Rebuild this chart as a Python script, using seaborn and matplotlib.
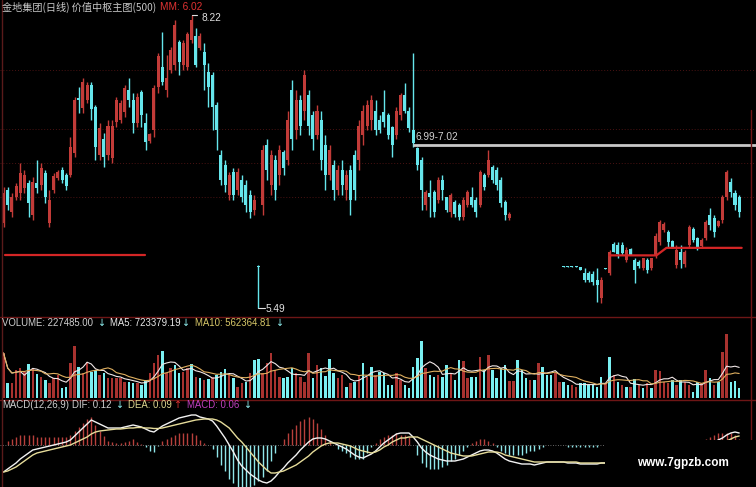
import matplotlib
matplotlib.use('Agg')
import matplotlib.pyplot as plt
from matplotlib.lines import Line2D
from matplotlib.patches import Rectangle
import seaborn as sns
import numpy as np
import pandas as pd

# daily candles (price), None = not drawn by the indicator
opens = [6.28, 6.59, 6.38, 6.52, 6.56, 6.61, 6.65, 6.36, 6.65, 6.64,
         6.75, 6.28, 6.59, 6.70, 6.78, 6.73, 6.73, 6.93, 7.45, 7.35,
         7.43, 7.57, 7.36, 6.92, 7.06, 6.92, 6.89, 7.22, 7.24, 7.32,
         7.52, 7.43, 7.21, 7.50, 7.21, 7.05, 7.15, 7.55, 7.74, 7.52,
         7.71, 7.75, 7.97, 7.75, 7.74, 7.99, 8.02, 7.91, 7.88, 7.69,
         7.66, 7.38, 6.92, 6.82, 6.54, 6.76, 6.59, 6.68, 6.64, 6.54,
         6.40, 5.88, 6.45, 7.01, 6.64, 6.87, 6.73, 6.94, 6.87, 7.52,
         7.15, 7.43, 7.33, 7.47, 7.29, 7.10, 7.24, 7.01, 6.73, 6.82,
         6.59, 6.78, 6.59, 6.78, 6.92, 6.87, 7.10, 7.19, 7.24, 7.33,
         7.24, 7.32, 7.29, 7.18, 7.10, 7.29, 7.47, 7.33, 7.15, 6.98,
         6.87, 6.45, 6.56, 6.57, 6.50, 6.68, 6.52, 6.38, 6.48, 6.45,
         6.34, 6.45, 6.52, 6.50, 6.45, 6.73, 6.73, 6.80, 6.78, 6.68,
         6.48, 6.33] + [None] * 12 + [
         5.88, 5.88, 5.88, 5.88, 5.87, 5.82, 5.82, 5.81, 5.75, 5.58,
         5.86, 5.82, 6.09, 6.08, 6.08, 5.94, 6.04, 5.94, 5.92, 5.86,
         5.94, 5.86, 5.98, 6.10, 6.22, 6.20, 6.11, 5.89, 6.01, 5.90,
         6.08, 6.23, 6.14, 6.07, 6.14, 6.36, 6.33, 6.25, 6.31, 6.52,
         6.66, 6.56, 6.52]
highs = [6.62, 6.62, 6.56, 6.65, 6.84, 6.78, 6.68, 6.71, 6.87, 6.84,
         6.78, 6.59, 6.75, 6.78, 6.80, 6.75, 7.08, 7.46, 7.55, 7.63,
         7.60, 7.60, 7.38, 7.21, 7.12, 7.24, 7.24, 7.46, 7.43, 7.57,
         7.63, 7.49, 7.49, 7.52, 7.31, 7.12, 7.57, 7.87, 8.06, 7.85,
         7.92, 8.17, 7.99, 7.99, 8.06, 8.22, 8.10, 8.05, 7.96, 7.77,
         7.69, 7.41, 6.96, 6.87, 6.76, 6.79, 6.79, 6.73, 6.68, 6.59,
         6.54, 5.89, 7.01, 7.06, 6.96, 6.92, 7.01, 6.96, 7.33, 7.61,
         7.52, 7.47, 7.71, 7.52, 7.33, 7.38, 7.33, 7.10, 7.01, 6.87,
         6.82, 6.87, 6.78, 6.82, 6.96, 7.24, 7.38, 7.43, 7.47, 7.43,
         7.29, 7.52, 7.31, 7.19, 7.36, 7.49, 7.59, 7.36, 7.87, 6.99,
         6.90, 6.59, 6.68, 6.59, 6.71, 6.73, 6.52, 6.56, 6.50, 6.47,
         6.52, 6.59, 6.62, 6.52, 6.78, 6.75, 6.96, 6.82, 6.80, 6.71,
         6.50, 6.38] + [None] * 12 + [
         5.88, 5.88, 5.88, 5.88, 5.87, 5.86, 5.83, 5.83, 5.86, 5.78,
         5.86, 6.03, 6.10, 6.10, 6.10, 6.06, 6.05, 5.96, 5.94, 5.96,
         5.96, 5.96, 6.19, 6.31, 6.29, 6.22, 6.12, 6.08, 6.08, 6.03,
         6.26, 6.24, 6.15, 6.14, 6.31, 6.42, 6.36, 6.31, 6.54, 6.78,
         6.70, 6.59, 6.54]
lows = [6.24, 6.40, 6.34, 6.50, 6.50, 6.56, 6.34, 6.31, 6.56, 6.59,
        6.47, 6.24, 6.56, 6.68, 6.65, 6.59, 6.71, 6.90, 7.31, 7.31,
        7.40, 7.24, 6.87, 6.87, 6.80, 6.87, 6.84, 7.18, 7.21, 7.27,
        7.36, 7.12, 7.18, 7.18, 6.96, 7.03, 7.08, 7.49, 7.57, 7.46,
        7.68, 7.71, 7.66, 7.71, 7.71, 7.96, 7.74, 7.89, 7.52, 7.36,
        7.15, 6.96, 6.64, 6.57, 6.50, 6.50, 6.54, 6.48, 6.38, 6.33,
        6.36, 5.49, 6.36, 6.68, 6.54, 6.50, 6.64, 6.73, 6.82, 6.96,
        7.06, 7.10, 7.24, 7.10, 6.96, 7.06, 6.78, 6.59, 6.68, 6.50,
        6.54, 6.54, 6.50, 6.36, 6.50, 6.78, 7.01, 7.15, 7.15, 7.10,
        7.12, 7.18, 7.06, 6.90, 7.06, 7.24, 7.31, 7.13, 6.99, 6.78,
        6.40, 6.40, 6.34, 6.34, 6.47, 6.50, 6.38, 6.34, 6.34, 6.31,
        6.31, 6.43, 6.43, 6.34, 6.43, 6.59, 6.71, 6.65, 6.59, 6.43,
        6.31, 6.31] + [None] * 12 + [
        5.87, 5.87, 5.87, 5.87, 5.84, 5.73, 5.73, 5.70, 5.55, 5.54,
        5.85, 5.80, 6.01, 5.96, 5.98, 5.92, 5.98, 5.72, 5.86, 5.84,
        5.82, 5.84, 5.96, 6.08, 6.20, 6.06, 6.05, 5.86, 5.86, 5.87,
        6.06, 6.10, 6.03, 6.05, 6.12, 6.22, 6.15, 6.24, 6.28, 6.50,
        6.52, 6.40, 6.34]
closes = [6.56, 6.45, 6.52, 6.63, 6.75, 6.73, 6.47, 6.66, 6.61, 6.79,
          6.52, 6.50, 6.72, 6.76, 6.68, 6.63, 6.99, 7.43, 7.43, 7.60,
          7.57, 7.34, 6.99, 7.17, 6.90, 7.19, 7.19, 7.43, 7.40, 7.54,
          7.43, 7.21, 7.46, 7.29, 7.04, 7.11, 7.54, 7.84, 7.60, 7.63,
          7.89, 8.13, 7.78, 7.96, 8.04, 8.17, 7.75, 8.02, 7.75, 7.55,
          7.36, 7.15, 6.68, 6.64, 6.73, 6.54, 6.76, 6.52, 6.45, 6.38,
          6.50, 5.87, 6.96, 6.78, 6.92, 6.59, 6.96, 6.79, 7.24, 7.06,
          7.43, 7.19, 7.66, 7.19, 7.06, 7.33, 6.87, 6.73, 6.96, 6.59,
          6.78, 6.64, 6.73, 6.50, 6.59, 7.19, 7.33, 7.38, 7.43, 7.15,
          7.15, 7.22, 7.10, 7.01, 7.33, 7.47, 7.33, 7.17, 7.03, 6.82,
          6.59, 6.57, 6.52, 6.38, 6.68, 6.59, 6.40, 6.54, 6.37, 6.34,
          6.50, 6.57, 6.45, 6.38, 6.76, 6.62, 6.87, 6.68, 6.64, 6.47,
          6.36, 6.37] + [None] * 12 + [
          5.87, 5.87, 5.87, 5.87, 5.84, 5.75, 5.75, 5.73, 5.70, 5.75,
          5.85, 6.01, 6.01, 5.99, 6.00, 6.03, 5.98, 5.84, 5.88, 5.96,
          5.84, 5.96, 6.16, 6.29, 6.27, 6.10, 6.06, 6.03, 5.94, 6.01,
          6.24, 6.12, 6.05, 6.12, 6.29, 6.26, 6.20, 6.30, 6.52, 6.76,
          6.57, 6.45, 6.38]

# volume in thousands of shares
volume_k = [1024, 341, 341, 637, 683, 592, 774, 683, 546, 478,
            410, 341, 455, 523, 228, 250, 796, 1183, 705, 569,
            819, 592, 637, 523, 569, 455, 455, 455, 455, 364,
            364, 341, 341, 296, 410, 569, 796, 978, 1069, 569,
            683, 751, 569, 592, 683, 774, 478, 455, 410, 432,
            478, 523, 592, 660, 523, 455, 250, 341, 364, 569,
            865, 887, 569, 796, 1024, 637, 478, 455, 478, 683,
            569, 478, 364, 1024, 455, 751, 683, 501, 887, 569,
            455, 523, 250, 341, 364, 523, 796, 478, 705, 523,
            592, 569, 296, 296, 569, 410, 296, 228, 705, 910,
            1297, 683, 523, 478, 523, 478, 751, 569, 410, 865,
            842, 455, 478, 478, 933, 637, 978, 637, 455, 683,
            751, 387, 387, 865, 637, 455, 410, 410, 796, 705,
            523, 523, 569, 364, 364, 296, 296, 250, 341, 341,
            296, 296, 250, 478, 341, 933, 523, 364, 296, 250,
            250, 432, 296, 228, 341, 228, 637, 614, 364, 341,
            410, 296, 410, 364, 296, 137, 364, 341, 637, 455,
            296, 364, 1047, 1456, 364, 387, 227.485]
vol_dirs = ("rcrrrrcrcr" "crrrccrrcr" "rccrcrrrrr" "ccrccrrrcr" "rccrrcrcrc"
            "rcccrcrrcr" "ccrrrrrccc" "rrrrcrcccc" "rrcrcrcrcr" "ccccrrcccc"
            "crccrccrcc" "rrccrcrccc" "crrcccrcrc" "ccrrccrrcc" "ccccrcrcrc"
            "rcrcrcrrrr" "crcrrccrrc" "rcrrccc")

dif = [-0.27, -0.24, -0.21, -0.18, -0.14, -0.11, -0.08, -0.05, -0.04, -0.03,
       -0.02, -0.01, 0.00, 0.01, 0.02, 0.03, 0.05, 0.09, 0.13, 0.17,
       0.21, 0.25, 0.23, 0.21, 0.19, 0.17, 0.17, 0.17, 0.17, 0.18,
       0.19, 0.20, 0.19, 0.18, 0.16, 0.14, 0.13, 0.16, 0.19, 0.21,
       0.23, 0.25, 0.27, 0.28, 0.29, 0.30, 0.30, 0.28, 0.27, 0.26,
       0.24, 0.19, 0.13, 0.07, 0.00, -0.07, -0.15, -0.21, -0.25, -0.29,
       -0.32, -0.35, -0.37, -0.38, -0.36, -0.32, -0.27, -0.23, -0.18, -0.14,
       -0.10, -0.05, -0.01, 0.03, 0.06, 0.07, 0.07, 0.06, 0.04, 0.02,
       0.00, -0.02, -0.04, -0.07, -0.10, -0.12, -0.13, -0.11, -0.09, -0.06,
       -0.02, 0.02, 0.05, 0.08, 0.11, 0.12, 0.12, 0.12, 0.08, 0.03,
       -0.03, -0.07, -0.10, -0.12, -0.14, -0.15, -0.16, -0.16, -0.16, -0.15,
       -0.14, -0.12, -0.10, -0.08, -0.06, -0.05, -0.05, -0.06, -0.08, -0.11,
       -0.14, -0.16, -0.17, -0.18, -0.19, -0.19, -0.19, -0.20, -0.19, -0.18,
       -0.17, -0.17, -0.17, -0.17, -0.17, -0.18, -0.18, -0.18, -0.19, -0.19,
       -0.19, -0.19, -0.19, -0.18, -0.18, -0.18, -0.17, -0.16, -0.15, -0.15,
       -0.14, -0.14, -0.13, -0.13, -0.12, -0.12, -0.11, -0.10, -0.09, -0.08,
       -0.08, -0.07, -0.07, -0.06, -0.05, -0.04, -0.04, -0.03, -0.01, 0.01,
       0.03, 0.05, 0.07, 0.10, 0.12, 0.13, 0.12]
dea = [-0.27, -0.26, -0.24, -0.22, -0.19, -0.16, -0.13, -0.10, -0.08, -0.07,
       -0.06, -0.05, -0.04, -0.03, -0.02, -0.01, 0.00, 0.02, 0.04, 0.06,
       0.08, 0.11, 0.13, 0.14, 0.145, 0.15, 0.155, 0.16, 0.16, 0.165,
       0.17, 0.17, 0.175, 0.175, 0.17, 0.17, 0.165, 0.165, 0.17, 0.18,
       0.19, 0.20, 0.21, 0.22, 0.23, 0.24, 0.25, 0.255, 0.26, 0.26,
       0.26, 0.25, 0.23, 0.20, 0.17, 0.12, 0.07, 0.03, -0.02, -0.07,
       -0.12, -0.17, -0.21, -0.25, -0.28, -0.28, -0.27, -0.26, -0.24, -0.22,
       -0.20, -0.17, -0.14, -0.11, -0.07, -0.04, -0.01, 0.01, 0.02, 0.02,
       0.02, 0.01, 0.00, -0.01, -0.03, -0.05, -0.06, -0.07, -0.08, -0.07,
       -0.05, -0.02, 0.00, 0.03, 0.05, 0.07, 0.07, 0.08, 0.08, 0.08,
       0.06, 0.04, 0.02, 0.00, -0.02, -0.04, -0.06, -0.08, -0.09, -0.10,
       -0.11, -0.11, -0.11, -0.10, -0.09, -0.08, -0.07, -0.07, -0.07, -0.08,
       -0.10, -0.11, -0.12, -0.13, -0.14, -0.15, -0.16, -0.17, -0.17, -0.17,
       -0.17, -0.17, -0.17, -0.17, -0.17, -0.17, -0.17, -0.17, -0.18, -0.18,
       -0.18, -0.18, -0.18, -0.18, -0.18, -0.18, -0.18, -0.18, -0.17, -0.17,
       -0.16, -0.16, -0.15, -0.15, -0.14, -0.14, -0.13, -0.12, -0.11, -0.10,
       -0.10, -0.09, -0.08, -0.08, -0.07, -0.06, -0.05, -0.05, -0.04, -0.03,
       -0.02, -0.01, 0.01, 0.04, 0.06, 0.08, 0.09]

# value-centre (MM) lines, the 6.99-7.02 band and faint price levels
mm_left_idx, mm_left_val = [0.4, 33.8], [5.98, 5.98]
mm_right_idx, mm_right_val = [145, 156.2, 158.6, 176.6], [5.98, 5.98, 6.05, 6.05]
band_start, band_val = 98, 7.01
grid_levels = [7.71, 7.16, 6.84, 6.52]
peak_idx, peak_val = 45, 8.22
low_idx, low_val = 61, 5.49

RED = '#c23b38'
CYAN = '#66e6ec'
VRED = '#a8322f'
VCYAN = '#7af0f2'

W, H = 756, 487
sns.set_theme(style='dark', rc={'axes.facecolor': 'black', 'figure.facecolor': 'black'})
plt.rcParams['font.family'] = ['DejaVu Sans']

fig = plt.figure(figsize=(W / 100, H / 100), dpi=100)


def panel(top, bottom):
    ax = fig.add_axes([0, 1 - bottom / H, 1, (bottom - top) / H])
    ax.set_axis_off()
    ax.set_xlim(-3.5 / 4.18, (W - 3.5) / 4.18)
    return ax


ax_p = panel(0, 319)
ax_v = panel(320, 400)
ax_m = panel(400, 487)
ax_p.set_ylim(5.387, 8.36)
ax_v.set_ylim(-45.5, 1774.5)
ax_m.set_ylim(-0.42, 0.45)

n = len(closes)
idx = np.arange(n)
o = np.array(opens, dtype=float)
h = np.array(highs, dtype=float)
l = np.array(lows, dtype=float)
c = np.array(closes, dtype=float)

for g in grid_levels:
    ax_p.axhline(g, color='#4a1212', lw=0.7, ls=(0, (1, 2)), zorder=0)

# candles
ok = ~np.isnan(c)
up = c >= o
cols = np.where(up, RED, CYAN)
ax_p.vlines(idx[ok], l[ok], h[ok], colors=cols[ok], lw=1)
body = np.maximum(np.abs(c - o), 0.01)
ax_p.bar(idx[ok], body[ok], bottom=np.minimum(o, c)[ok], width=0.72, color=cols[ok], linewidth=0)

ax_p.plot(mm_left_idx, mm_left_val, color='#d42626', lw=1.6)
ax_p.plot(mm_right_idx, mm_right_val, color='#d42626', lw=1.6)
ax_p.hlines(band_val, band_start, 185, color='#c8c8c8', lw=2)
ax_p.plot([peak_idx, peak_idx + 1.4], [peak_val, peak_val], color='#e0e0e0', lw=0.8)
ax_p.plot([low_idx, low_idx + 1.5], [low_val, low_val], color='#e0e0e0', lw=0.8)

# volume
vol = pd.Series(volume_k, dtype=float)
vcols = [VRED if d == 'r' else VCYAN for d in vol_dirs]
ax_v.bar(idx, vol, width=0.6, color=vcols, linewidth=0)
ma5 = vol.rolling(5, min_periods=1).mean()
ma10 = vol.rolling(10, min_periods=1).mean()
sns.lineplot(x=idx, y=ma5, ax=ax_v, color='#f0e6e6', lw=0.8, estimator=None)
sns.lineplot(x=idx, y=ma10, ax=ax_v, color='#e0b060', lw=0.8, estimator=None)

# MACD
dif_a = np.array(dif)
dea_a = np.array(dea)
hist = 2 * (dif_a - dea_a)
hcols = np.where(hist >= 0, '#b8403c', '#8fe6ea')
ax_m.vlines(idx, 0, hist, colors=hcols, lw=1)
ax_m.axhline(0, color='#888888', lw=0.6, ls=(0, (1, 2)))
sns.lineplot(x=idx, y=dif_a, ax=ax_m, color='#f2f2f2', lw=1, estimator=None)
sns.lineplot(x=idx, y=dea_a, ax=ax_m, color='#e6dc9a', lw=1, estimator=None)
for ax in (ax_v, ax_m):
    ax.set_axis_off()

# frame lines
for y in (316.5, 400):
    fig.add_artist(Line2D([0, 1], [1 - y / H] * 2, transform=fig.transFigure, color='#6e1616', lw=1))
fig.add_artist(Line2D([1.5 / W] * 2, [0, 1], transform=fig.transFigure, color='#5a1a1a', lw=1))
fig.add_artist(Line2D([751 / W] * 2, [0, 1 - 110 / H], transform=fig.transFigure, color='#6e1616', lw=1))


def ptext(x, y, s, color, size=6.9, family=('Liberation Sans', 'DejaVu Sans'), **kw):
    fig.text(x / W, 1 - y / H, s, color=color, fontsize=size, va='center', ha='left',
             family=list(family), **kw)


cjk = ('Noto Sans CJK SC', 'DejaVu Sans')
arrow = ('DejaVu Sans',)
ptext(2, 7, '金地集团(日线) 价值中枢主图(500)', '#c8c8c8', 7.3, cjk)
ptext(160, 7, 'MM: 6.02', '#e03232', 7.3)
ptext(201, 18, '8.22', '#e0e0e0', 7.3)
ptext(415, 137, '6.99-7.02', '#d0d0d0', 7.3)
ptext(266, 309, '5.49', '#e0e0e0', 7.3)

ptext(2, 323, 'VOLUME: 227485.00', '#d0d0d0')
ptext(97, 323, '↓', '#8ff0f0', 6.9, arrow)
ptext(110, 323, 'MA5: 723379.19', '#e8e8e8')
ptext(181, 323, '↓', '#8ff0f0', 6.9, arrow)
ptext(195, 323, 'MA10: 562364.81', '#d8c868')
ptext(275, 323, '↓', '#8ff0f0', 6.9, arrow)

ptext(2, 405, 'MACD(12,26,9)', '#d0d0d0')
ptext(72, 405, 'DIF: 0.12', '#d0d0d0')
ptext(115, 405, '↓', '#8ff0f0', 6.9, arrow)
ptext(128, 405, 'DEA: 0.09', '#e0d890')
ptext(173, 405, '↑', '#e03232', 6.9, arrow)
ptext(187, 405, 'MACD: 0.06', '#c040c0')
ptext(243, 405, '↓', '#8ff0f0', 6.9, arrow)

# watermark box
fig.add_artist(Rectangle((605 / W, 0), 151 / W, 47 / H, transform=fig.transFigure,
                         facecolor='black', edgecolor='none', zorder=5))
fig.text(683 / W, 1 - 463 / H, 'www.7gpzb.com', color='white', fontsize=8.5, fontweight='bold',
         ha='center', va='center', family=['Liberation Sans', 'DejaVu Sans'], zorder=6)

fig.savefig('out.png', dpi=100, facecolor='black')
plt.close(fig)
